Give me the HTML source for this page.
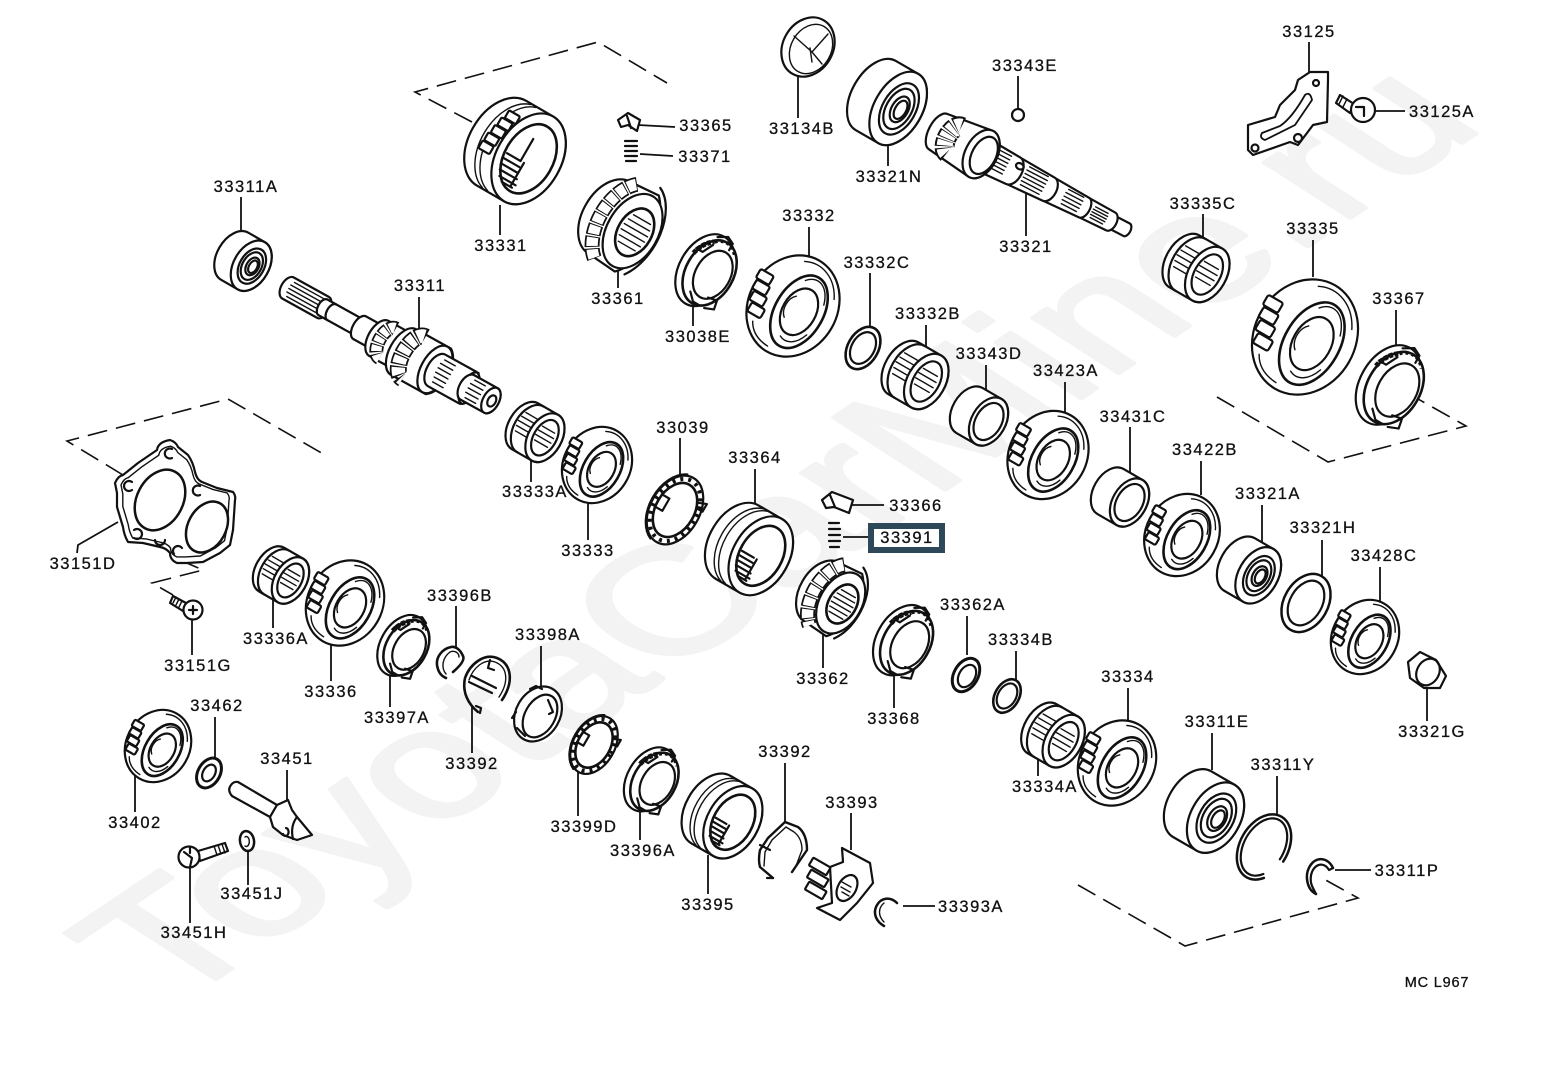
<!DOCTYPE html>
<html><head><meta charset="utf-8"><title>33391 diagram</title>
<style>
html,body{margin:0;padding:0;background:#fff}
svg{display:block}
svg *{vector-effect:non-scaling-stroke}
.p{fill:#fff;stroke:#111;stroke-width:2.200;stroke-linejoin:round;stroke-linecap:round}
.n{fill:none;stroke:#111;stroke-width:2.200;stroke-linejoin:round;stroke-linecap:round}
.thin{fill:none;stroke:#111;stroke-width:1.400;stroke-linecap:round}
.ld{stroke:#111;stroke-width:1.800;fill:none}
.ds{stroke:#111;stroke-width:1.600;fill:none;stroke-dasharray:20 9}
.tb{fill:none;stroke:#111;stroke-width:9;stroke-dasharray:10 1.500}
.tw{fill:none;stroke:#fff;stroke-width:5.500;stroke-dasharray:7.500 4;stroke-dashoffset:-1.250}
text.l{font:16.500px "Liberation Sans",sans-serif;letter-spacing:1.500px;text-anchor:middle;fill:#111;stroke:#111;stroke-width:.3}
text.w{font:150px "Liberation Sans",sans-serif;fill:#f3f3f3;stroke:#f3f3f3;stroke-width:5;stroke-linejoin:round}
</style></head><body>
<svg width="1552" height="1066" viewBox="0 0 1552 1066" xmlns="http://www.w3.org/2000/svg">
<defs>
<g id="brg">
<path class="p" d="M-14,-40A26,40 0 0 0 -14,40L14,40A26,40 0 0 0 14,-40Z"/>
<ellipse class="p" cx="14" rx="26" ry="40"/>
<ellipse class="p" cx="15" rx="18" ry="28"/>
<ellipse class="n" cx="15" rx="14" ry="22"/>
<ellipse class="p" cx="16" rx="9" ry="14"/>
<ellipse class="n" cx="17" rx="6" ry="10"/>
</g>
<g id="disc">
<ellipse class="p" rx="44" ry="52"/>
<path class="thin" d="M-12,-44A36,45 0 0 1 32,-26M-27,33Q-20,46 -2,47"/>
<g class="p">
<rect class="p" x="-46" y="-16" width="15" height="10" rx="2"/>
<rect class="p" x="-44" y="-5" width="15" height="10" rx="2"/>
<rect class="p" x="-41" y="6" width="15" height="10" rx="2"/>
<rect class="p" x="-37" y="17" width="15" height="10" rx="2"/>
</g>
<ellipse class="p" cx="8" cy="2" rx="24" ry="39" style="stroke-width:2.600"/>
<path class="thin" d="M-2,-28A19,32 0 0 1 26,-16M26,18A19,32 0 0 1 4,32"/>
<ellipse class="p" cx="8" cy="2" rx="16.600" ry="24.800"/>
<path class="thin" d="M-2,-10A10,14 0 0 0 -2,14"/>
</g>
<g id="spg">
<path class="p" d="M-12,-34A22,34 0 0 0 -12,34L14,36A26,42 0 0 0 14,-36Z"/>
<path class="tb" style="stroke-width:15;stroke-dasharray:10.500 1.500" d="M-6,-35A24,39 0 0 0 -6,35"/>
<path class="tw" style="stroke-width:11.500;stroke-dasharray:8.500 3.500;stroke-dashoffset:-1" d="M-6,-35A24,39 0 0 0 -6,35"/>
<path class="n" d="M12,-42A27,44 0 0 1 22,34"/>
<ellipse class="p" cx="10" rx="21" ry="33"/>
<ellipse class="p" cx="12" rx="14" ry="21" style="stroke-width:2.600"/>
<path class="thin" d="M4,-12h16M2,-7h20M1,-2h22M1,3h22M2,8h20M4,13h16"/>
</g>
<g id="ndl">
<path class="p" d="M-13,-30A19,30 0 0 0 -13,30L13,30A19,30 0 0 0 13,-30Z"/>
<path class="n" d="M-6,-30A19,30 0 0 0 -6,30"/>
<path class="thin" d="M-20,-14H-4M-22,-8H-6M-23,-2H-7M-22,4H-6M-20,10H-4"/>
<ellipse class="p" cx="13" rx="19" ry="30"/>
<ellipse class="p" cx="13" rx="13" ry="22"/>
<path class="thin" d="M4,-10h16M2,-4h20M2,2h20M4,8h17"/>
</g>
<g id="slv">
<path class="p" d="M-11,-26A17,26 0 0 0 -11,26L11,26A17,26 0 0 0 11,-26Z"/>
<ellipse class="p" cx="11" rx="17" ry="26"/>
<ellipse class="n" cx="11" rx="13" ry="20"/>
</g>
<g id="ring">
<ellipse class="p" rx="16" ry="24" style="stroke-width:2.600"/>
<ellipse class="n" rx="12" ry="18"/>
</g>
<g id="slg">
<path class="p" d="M-16,-50A33,50 0 0 0 -16,50L16,50A33,50 0 0 0 16,-50Z"/>
<path class="thin" d="M-10,-49A33,50 0 0 0 -10,49M-4,-49A33,50 0 0 0 -4,49"/>
<ellipse class="p" cx="16" rx="33" ry="50"/>
<ellipse class="p" cx="16" rx="25" ry="38" style="stroke-width:2.600"/>
<path class="n" d="M-6,6H10M-7,12H12M-6,18H14M-4,24H16M-1,30H18M4,34H16M14,6V34"/>
</g>
<g id="syn">
<ellipse class="p" rx="28" ry="42"/>
<path class="n" d="M-8,-42A30,44 0 0 0 -8,42"/>
<ellipse class="n" rx="22" ry="33" style="stroke-width:2.600"/>
<ellipse fill="none" stroke="#111" stroke-width="4" stroke-dasharray="3 5" rx="25" ry="38"/>
<path class="n" d="M-22,-8h10v16h-10M18,-20l10,-4v10h-8"/>
</g>
<g id="cage">
<ellipse class="p" cx="-4" rx="28" ry="42"/>
<ellipse class="p" cx="2" rx="26" ry="38" style="stroke-width:2.600"/>
<ellipse class="p" cx="6" rx="19" ry="28"/>
<path class="n" d="M-18,-26l-6,10h8l6,-12M14,24l10,-2 2,10 -10,4M-10,-38l10,-6 8,4v8M-6,28l8,8h8"/>
<path class="tb" style="stroke-width:5;stroke-dasharray:4 1.500" d="M-24,-10A25,36 0 0 1 -10,-32"/>
<path class="tb" style="stroke-width:3.500;stroke-dasharray:3 3" d="M-10,-32A22,34 0 0 1 16,-30"/>
</g>
</defs>

<rect width="1552" height="1066" fill="#fff"/>
<text class="w" transform="matrix(1.110,-.745,1.080,.700,173,1008)">ToyotaCarMine.ru</text>

<!-- dashed enclosures -->
<path class="ds" d="M472,122L415,92L598,42L667,83"/>
<path class="ds" d="M123,475L67,441L228,399L325,455"/>
<path class="ds" d="M180,560L203,570L152,583L173,595"/>
<path class="ds" d="M1217,397L1328,462L1466,426L1402,390"/>
<path class="ds" d="M1078,885L1185,946L1358,898L1322,878"/>

<!-- leaders -->
<path class="ld" d="M241,197V236M419,297V332M500,205V235M618,255V288M638,125L675,127M640,154L673,156M798,75V118M888,142V166M1018,76V108M1026,190V236M1309,42V75M1376,111H1405M1203,214V250M1313,240V277M1396,310V345M809,227V258M870,273V330M926,325V355M986,365V400M1065,382V412M1130,427V480M1201,461V495M1262,505V545M1322,540V578M1380,567V605M1427,685V721M693,298V326M680,438V475M755,469V505M850,505H884M843,537H872M531,450V482M588,503V540M118,522L78,545 77,553M192,618V655M273,590V628M331,643V681M456,606V648M541,646V690M390,657V707M472,705V753M823,630V668M967,616V655M1016,651V682M894,670V708M1128,688V727M1038,750V776M1212,733V770M1277,776V815M1335,870H1371M785,763V822M851,813V850M903,906H935M708,855V894M640,805V840M578,772V816M135,770V812M215,717V760M287,770V800M248,850V885M190,867V923"/>

<!-- upper row -->
<use href="#brg" transform="translate(243,261) rotate(30) scale(.68)"/>
<g transform="translate(515,151) rotate(30) scale(.98)">
<use href="#slg"/>
<path class="n" d="M10,-20V6"/>
<rect class="p" x="-26" y="-33" width="13" height="9" rx="1.500"/>
<rect class="p" x="-29" y="-23" width="13" height="9" rx="1.500"/>
<rect class="p" x="-31" y="-13" width="13" height="9" rx="1.500"/>
<rect class="p" x="-33" y="-3" width="13" height="9" rx="1.500"/>
<rect class="p" x="-34" y="7" width="13" height="9" rx="1.500"/>
</g>
<use href="#spg" transform="translate(622,225) rotate(30) scale(1.220)"/>
<use href="#cage" transform="translate(708,272) rotate(30) scale(.92)"/>
<!-- 33365 clip & spring -->
<path class="p" d="M618,120L628,113 640,120 637,131 628,125 621,127Z"/>
<path class="n" d="M627,116l4,12"/>
<path class="n" d="M625,141h12M625,146h12M625,151h12M625,156h12M626,161h10" style="stroke-width:2.200"/>
<!-- 33134B -->
<ellipse class="p" cx="808" cy="47" rx="25" ry="31" transform="rotate(30 808 47)"/>
<ellipse class="thin" cx="811" cy="49" rx="20" ry="26" transform="rotate(30 811 49)"/>
<path class="thin" d="M794,36L812,52 822,64M812,52L828,34M810,48L812,62"/>
<use href="#brg" transform="translate(887,102) rotate(30) scale(.92,1)"/>
<circle class="p" cx="1018" cy="115" r="6"/>

<!-- shaft 33321 -->
<g transform="translate(935,130) rotate(27.500)">
<path class="p" d="M195,-7A4,7 0 0 0 195,7L216,7A4,7 0 0 0 216,-7Z"/>
<path class="p" d="M165,-11A6,11 0 0 0 165,11L198,10A6,10 0 0 0 198,-10Z"/>
<path class="thin" d="M178,-6H192M177,-3H193M177,0H193M177,3H193M178,6H192"/>
<path class="p" d="M125,-13A7,13 0 0 0 125,13L168,11A6,11 0 0 0 168,-11Z"/>
<path class="thin" d="M146,-9H163M145,-5H164M145,-1H164M145,3H164M146,7H163"/>
<path class="p" d="M85,-15A9,15 0 0 0 85,15L128,13A8,13 0 0 0 128,-13Z"/>
<path class="thin" d="M101,-11H122M100,-7H123M100,-3H123M100,1H123M100,5H123M101,9H122"/>
<path class="p" d="M50,-17A10,17 0 0 0 50,17L88,15A9,15 0 0 0 88,-15Z"/>
<path class="thin" d="M60,-12H80M58,-8H80M58,-4H80M58,0H80M58,4H80M60,8H80"/>
<ellipse class="n" cx="92" cy="-7" rx="4" ry="3"/>
<path class="p" d="M4,-20A10,20 0 0 0 4,20L52,26A16,26 0 0 0 52,-26Z"/>
<path class="tb" style="stroke-width:20;stroke-dasharray:6 1.500" d="M22,-15A8,15 0 0 0 22,15"/>
<path class="tw" style="stroke-width:16;stroke-dasharray:4.500 3;stroke-dashoffset:-.7" d="M22,-15A8,15 0 0 0 22,15"/>
<ellipse class="p" cx="52" rx="16" ry="26"/>
<ellipse class="n" cx="55" rx="12" ry="20"/>
</g>

<!-- 33125 bracket -->
<path class="p" d="M1248,125L1275,117 1280,105 1295,90 1298,80 1310,72 1328,72 1328,80 1327,122 1313,125 1298,145 1290,142 1253,155 1248,150Z"/>
<path class="n" d="M1262,133L1280,126Q1292,118 1305,95 1310,91 1312,100L1295,125 1265,140Q1259,138 1262,133Z" style="stroke-width:1.800"/>
<circle class="n" cx="1255" cy="148" r="3.500"/><circle class="n" cx="1298" cy="138" r="4"/><circle class="n" cx="1316" cy="83" r="3"/>
<path class="p" d="M1340,95L1354,104 1350,113 1336,103Z"/>
<path class="thin" d="M1343,96l-4,8M1347,99l-4,8"/>
<circle class="p" cx="1363" cy="110" r="12"/>
<path class="n" d="M1356,107h8v9"/>

<use href="#ndl" transform="translate(1196,268) rotate(30)"/>
<use href="#disc" transform="translate(1305,337) rotate(30) scale(1.150)"/>
<use href="#cage" transform="translate(1392,387) rotate(30) scale(1.020)"/>
<use href="#disc" transform="translate(793,306) rotate(30) scale(1.010)"/>
<use href="#ring" transform="translate(863,348) rotate(30) scale(.95)"/>
<use href="#ndl" transform="translate(915,375) rotate(30)"/>
<use href="#slv" transform="translate(979,416) rotate(30)"/>
<use href="#disc" transform="translate(1048,455) rotate(30) scale(.88)"/>
<use href="#slv" transform="translate(1120,497) rotate(30)"/>
<use href="#disc" transform="translate(1182,535) rotate(30) scale(.82)"/>
<use href="#brg" transform="translate(1249,570) rotate(30) scale(.76)"/>
<ellipse class="p" cx="1306" cy="603" rx="22" ry="31" transform="rotate(30 1306 603)" style="stroke-width:2.500"/>
<ellipse class="n" cx="1306" cy="603" rx="16" ry="24" transform="rotate(30 1306 603)"/>
<use href="#disc" transform="translate(1365,637) rotate(30) scale(.74)"/>
<!-- 33321G nut -->
<path class="p" d="M1408,662L1420,652 1436,660 1446,676 1440,688 1424,688 1410,678Z"/>
<ellipse class="n" cx="1428" cy="672" rx="11" ry="14" transform="rotate(30 1428 672)"/>

<!-- shaft 33311 -->
<g transform="translate(288,288) rotate(29)">
<path class="p" d="M0,-12A7,12 0 0 0 0,12L40,12A7,12 0 0 0 40,-12Z"/>
<path class="thin" d="M3,-8H38M1,-4H39M1,0H40M1,4H39M3,8H38"/>
<path class="p" d="M40,-9A5,9 0 0 0 40,9L92,9A6,9 0 0 0 92,-9Z"/>
<path class="n" d="M50,-9A5,9 0 0 0 50,9"/>
<path class="p" d="M82,-13A7,13 0 0 0 82,13L112,13A7,13 0 0 0 112,-13Z"/>
<path class="p" d="M104,-20A11,20 0 0 0 104,20L130,20A11,20 0 0 0 130,-20Z"/>
<path class="tb" style="stroke-width:14;stroke-dasharray:7.500 1.500" d="M114,-17A9,17 0 0 0 114,17"/>
<path class="tw" style="stroke-width:10.500;stroke-dasharray:5.500 3.500;stroke-dashoffset:-1" d="M114,-17A9,17 0 0 0 114,17"/>
<path class="p" d="M132,-26A14,26 0 0 0 132,26L172,26A17,28 0 0 0 172,-26Z"/>
<path class="tb" style="stroke-width:17;stroke-dasharray:9.500 1.500" d="M144,-24A12,24 0 0 0 144,24"/>
<path class="tw" style="stroke-width:13.500;stroke-dasharray:7 4;stroke-dashoffset:-1.200" d="M144,-24A12,24 0 0 0 144,24"/>
<ellipse class="p" cx="168" rx="14" ry="26"/>
<path class="p" d="M170,-18A10,18 0 0 0 170,18L205,18A10,18 0 0 0 205,-18Z"/>
<path class="thin" d="M172,-13h12M170,-8h14M170,-3h14M170,2h14M171,7h13M172,12h12"/>
<path class="n" d="M208,-18A9,17 0 0 0 208,17"/>
<path class="p" d="M205,-14A8,14 0 0 0 205,14L232,14A8,14 0 0 0 232,-14Z"/>
<path class="thin" d="M208,-10h12M206,-5h14M206,0h14M206,5h14M208,10h12"/>
<ellipse class="p" cx="232" rx="8" ry="14"/>
<ellipse class="n" cx="233" rx="4" ry="6"/>
</g>

<!-- middle row -->
<use href="#ndl" transform="translate(535,432) rotate(30) scale(.88)"/>
<use href="#disc" transform="translate(597,465) rotate(30) scale(.76)"/>
<use href="#syn" transform="translate(675,510) rotate(30) scale(.88)"/>
<use href="#slg" transform="translate(749,549) rotate(30) scale(.85)"/>
<path class="p" d="M822,500L832,492 853,500 849,513 834,507 826,508Z"/>
<path class="n" d="M830,495l5,12"/>
<path class="n" d="M829,523h10M829,529h11M829,535h11M829,541h11M830,547h9" style="stroke-width:2.200"/>
<use href="#spg" transform="translate(832,598) rotate(30) scale(1)"/>
<use href="#cage" transform="translate(905,642) rotate(30) scale(.9)"/>
<ellipse class="p" cx="966" cy="675" rx="12" ry="18" transform="rotate(30 966 675)" style="stroke-width:3"/>
<ellipse class="n" cx="967" cy="676" rx="8" ry="12" transform="rotate(30 967 676)"/>
<use href="#ring" transform="translate(1007,696) rotate(30) scale(.75)"/>
<use href="#ndl" transform="translate(1053,735) rotate(30) scale(.95)"/>
<use href="#disc" transform="translate(1117,763) rotate(30) scale(.85)"/>
<use href="#brg" transform="translate(1204,811) rotate(30) scale(.95)"/>
<!-- 33311Y -->
<g transform="translate(1264,847) rotate(30)">
<path class="n" d="M15.400,26.800A24,35 0 1 1 23.900,3" style="stroke-width:2.500"/>
<path class="n" d="M12.900,23.700A20,31 0 1 1 19.900,2.700"/>
</g>
<!-- 33311P -->
<path class="n" d="M1333,868A14,18 0 1 0 1316,894" style="stroke-width:2.500"/>
<path class="n" d="M1329,870A10,14 0 1 0 1313,888M1333,868l-4,2M1316,894l-3,-6"/>

<!-- left plate -->
<path class="p" d="M115,483Q118,476 123,475L138,463 157,450Q158,442 170,440 176,442 178,447L188,455Q193,462 195,472 197,480 202,482L217,488 233,492Q236,496 235,500L233,530 230,545 220,553 203,562 187,563 177,563Q170,560 170,553 166,548 160,547L143,543 128,542Q124,535 123,527L117,507 117,493Z"/>
<path class="thin" transform="translate(17.500,50.200) scale(.9)" d="M115,483Q118,476 123,475L138,463 157,450Q158,442 170,440 176,442 178,447L188,455Q193,462 195,472 197,480 202,482L217,488 233,492Q236,496 235,500L233,530 230,545 220,553 203,562 187,563 177,563Q170,560 170,553 166,548 160,547L143,543 128,542Q124,535 123,527L117,507 117,493Z"/>
<ellipse class="p" cx="160" cy="500" rx="23" ry="32" transform="rotate(28 160 500)" style="stroke-width:2.500"/>
<ellipse class="p" cx="207" cy="527" rx="19" ry="27" transform="rotate(28 207 527)" style="stroke-width:2.500"/>
<path class="n" d="M172,449a5,5 0 1 0 0,9M132,482a5,5 0 1 0 0,8M200,486a5,5 0 1 0 0,9M155,540a5,5 0 1 0 10,0M134,538a5,5 0 1 0 0,-8M174,554a5,5 0 0 1 8,-6"/>
<!-- 33151G screw -->
<path class="p" d="M173,596L186,603 183,611 170,603Z"/>
<path class="thin" d="M176,597l-3,6M179,599l-3,6M182,601l-3,6"/>
<circle class="p" cx="193" cy="610" r="9.500"/>
<path class="n" d="M189,610h8M193,606v8"/>

<use href="#ndl" transform="translate(281,575) rotate(30) scale(.84)"/>
<use href="#disc" transform="translate(345,603) rotate(30) scale(.85)"/>
<use href="#cage" transform="translate(405,647) rotate(30) scale(.78)"/>
<!-- 33396B -->
<path class="n" d="M453,672C460,666 465,660 463,656 460,649 455,646 451,647 442,649 436,657 437,665 438,672 441,676 446,678" style="stroke-width:2.600"/>
<path class="thin" d="M446,674C441,668 442,658 450,652 455,650 459,653 459,657"/>
<!-- 33392 left -->
<path class="n" d="M502,700C514,682 512,664 497,658 484,653 470,664 465,678 462,692 468,704 478,712" style="stroke-width:2.600"/>
<path class="thin" d="M499,697C509,682 508,667 495,662 484,658 473,668 469,680"/>
<path class="n" d="M469,682L492,693M472,676L496,688M490,660l-2,8 6,2M476,706l5,2 -1,5"/>
<!-- 33398A ring -->
<ellipse class="p" cx="538" cy="714" rx="22" ry="29" transform="rotate(30 538 714)"/>
<ellipse class="n" cx="540" cy="716" rx="15" ry="23" transform="rotate(30 540 716)"/>
<path class="n" d="M512,718l4,-6M530,689l6,-3 6,3M517,728l8,8M548,700l5,12-4,2"/>
<use href="#syn" transform="translate(594,745) rotate(30) scale(.74)"/>
<use href="#cage" transform="translate(653,781) rotate(30) scale(.82)"/>
<use href="#slg" transform="translate(722,816) rotate(30) scale(.78)"/>
<!-- 33392 fork right -->
<path class="n" d="M792,872L807,850Q807,834 798,827L785,822 768,838 760,850Q758,860 760,867L773,878" style="stroke-width:2.400"/>
<path class="thin" d="M796,866L802,850Q802,838 794,832L786,827 772,840 765,852 764,866"/>
<path class="n" d="M760,845l10,5M767,878l6,0"/>
<!-- 33393 fork -->
<path class="p" d="M842,848L870,863 873,883 857,903 840,920 817,908 832,903 830,867 843,862Z"/>
<rect class="p" x="810" y="862" width="20" height="9" rx="1" transform="rotate(30 820 866)"/>
<rect class="p" x="808" y="874" width="20" height="9" rx="1" transform="rotate(30 818 878)"/>
<rect class="p" x="806" y="886" width="20" height="9" rx="1" transform="rotate(30 816 890)"/>
<ellipse class="p" cx="847" cy="888" rx="9" ry="14" transform="rotate(30 847 888)"/>
<path class="thin" d="M842,882l9,5M841,887l9,5M842,892l7,4"/>
<!-- 33393A -->
<path class="n" d="M897,903C890,896 881,898 877,905 872,914 877,922 884,926" style="stroke-width:2.500"/>
<path class="thin" d="M884,922C878,916 878,908 884,903"/>

<!-- lower left -->
<use href="#disc" transform="translate(158,746) rotate(30) scale(.72)"/>
<ellipse class="p" cx="209" cy="773" rx="11" ry="16" transform="rotate(30 209 773)" style="stroke-width:3"/>
<ellipse class="n" cx="209" cy="773" rx="6" ry="9" transform="rotate(30 209 773)"/>
<!-- 33451 -->
<path class="p" d="M238,782L277,805 270,817 232,796Q227,790 231,785 234,781 238,782Z"/>
<path class="p" d="M270,817L277,805 288,800 292,810 297,817 312,835 297,840 283,835 273,827Z"/>
<path class="n" d="M297,817Q290,826 293,839M286,828a3,4 0 1 1 -3,6"/>
<!-- 33451H -->
<path class="p" d="M198,851L225,843 228,851 200,861Z"/>
<path class="thin" d="M214,846l3,9M218,845l3,9M222,844l3,9"/>
<circle class="p" cx="189" cy="857" r="10.500"/>
<path class="n" d="M184,852l8,6 -2,9M190,848v5"/>
<!-- 33451J -->
<ellipse class="p" cx="247" cy="841" rx="7" ry="10" transform="rotate(-10 247 841)" style="stroke-width:2.500"/>
<path class="thin" d="M245,837a3,5 0 1 1 0,9"/>

<!-- labels -->
<rect x="871" y="526" width="71" height="24" fill="#fff" stroke="#2d4859" stroke-width="6"/>
<g>
<text class="l" x="246" y="192">33311A</text><text class="l" x="420" y="291">33311</text>
<text class="l" x="501" y="251">33331</text><text class="l" x="618" y="304">33361</text>
<text class="l" x="706" y="131">33365</text><text class="l" x="705" y="162">33371</text>
<text class="l" x="802" y="134">33134B</text><text class="l" x="889" y="182">33321N</text>
<text class="l" x="1025" y="71">33343E</text><text class="l" x="1026" y="252">33321</text>
<text class="l" x="1309" y="37">33125</text><text class="l" x="1442" y="117">33125A</text>
<text class="l" x="1203" y="209">33335C</text><text class="l" x="1313" y="234">33335</text>
<text class="l" x="1399" y="304">33367</text><text class="l" x="809" y="221">33332</text>
<text class="l" x="877" y="268">33332C</text><text class="l" x="928" y="319">33332B</text>
<text class="l" x="989" y="359">33343D</text><text class="l" x="1066" y="376">33423A</text>
<text class="l" x="1133" y="422">33431C</text><text class="l" x="1205" y="455">33422B</text>
<text class="l" x="1268" y="499">33321A</text><text class="l" x="1323" y="533">33321H</text>
<text class="l" x="1384" y="561">33428C</text><text class="l" x="1432" y="737">33321G</text>
<text class="l" x="698" y="342">33038E</text><text class="l" x="683" y="433">33039</text>
<text class="l" x="755" y="463">33364</text><text class="l" x="916" y="511">33366</text>
<text class="l" x="907" y="543">33391</text><text class="l" x="535" y="497">33333A</text>
<text class="l" x="588" y="556">33333</text><text class="l" x="83" y="569">33151D</text>
<text class="l" x="198" y="671">33151G</text><text class="l" x="276" y="644">33336A</text>
<text class="l" x="331" y="697">33336</text><text class="l" x="460" y="601">33396B</text>
<text class="l" x="548" y="640">33398A</text><text class="l" x="397" y="723">33397A</text>
<text class="l" x="472" y="769">33392</text><text class="l" x="823" y="684">33362</text>
<text class="l" x="973" y="610">33362A</text><text class="l" x="1021" y="645">33334B</text>
<text class="l" x="894" y="724">33368</text><text class="l" x="1128" y="682">33334</text>
<text class="l" x="1045" y="792">33334A</text><text class="l" x="1217" y="727">33311E</text>
<text class="l" x="1283" y="770">33311Y</text><text class="l" x="1407" y="876">33311P</text>
<text class="l" x="785" y="757">33392</text><text class="l" x="852" y="808">33393</text>
<text class="l" x="971" y="912">33393A</text><text class="l" x="708" y="910">33395</text>
<text class="l" x="643" y="856">33396A</text><text class="l" x="584" y="832">33399D</text>
<text class="l" x="135" y="828">33402</text><text class="l" x="217" y="711">33462</text>
<text class="l" x="287" y="764">33451</text><text class="l" x="252" y="899">33451J</text>
<text class="l" x="194" y="938">33451H</text><text class="l" x="1437" y="987" style="font-size:14.500px;letter-spacing:.8px">MC L967</text>
</g>
</svg>
</body></html>
